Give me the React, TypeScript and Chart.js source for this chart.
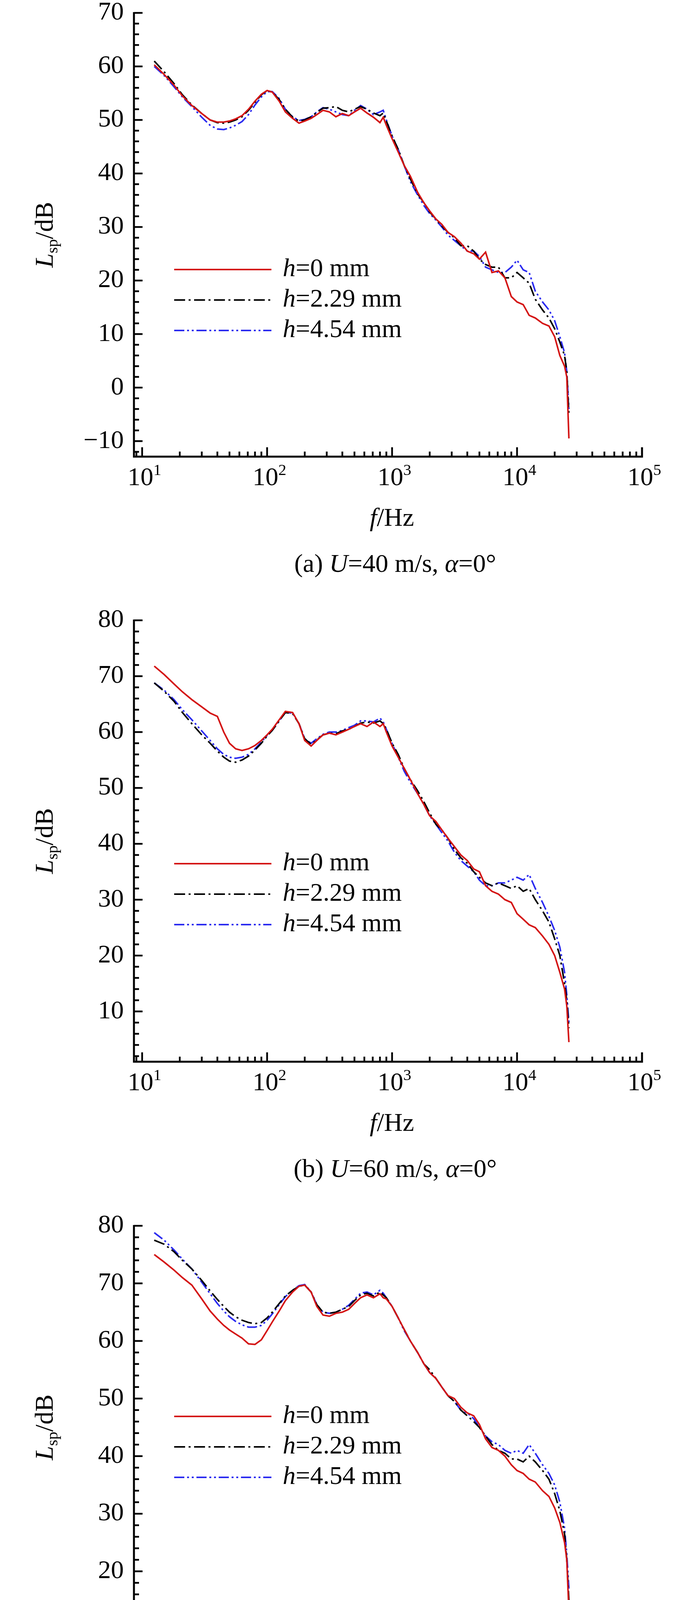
import React, { useEffect, useRef } from "react";
import { Chart, registerables } from "chart.js";
Chart.register(...registerables);

const freqs = [12.5, 15, 18, 21, 25, 30, 35, 40, 45, 50, 56, 63, 71, 80, 90, 100, 110, 125, 140, 160, 180, 200, 225, 250, 280, 315, 355, 400, 450, 500, 560, 630, 710, 800, 850, 900, 1000, 1120, 1250, 1400, 1600, 1800, 2000, 2240, 2500, 2800, 3150, 3550, 4000, 4500, 5000, 5600, 6300, 7100, 8000, 9000, 10000, 11200, 12500, 14000, 16000, 18000, 20000, 22000, 24000, 25000, 26000];

const a_h0 = [60.3, 58.5, 56.5, 54.5, 52.7, 51.2, 50.0, 49.6, 49.6, 49.8, 50.2, 50.8, 52, 53.5, 54.8, 55.5, 55.2, 53.5, 51.5, 50.3, 49.4, 49.8, 50.3, 51.0, 51.8, 51.5, 50.6, 51.2, 50.8, 51.5, 52.2, 51.3, 50.5, 49.5, 50.5, 49.0, 46.5, 44.0, 41.5, 39.5, 36.5, 34.5, 33.0, 31.5, 30.5, 29.0, 28.2, 27.0, 25.5, 25.0, 24.0, 25.3, 21.5, 21.8, 20.5, 17.0, 16.0, 15.5, 13.5, 13.0, 12.0, 11.5, 9.5, 6.0, 4.0, 2.0, -9.5];
const a_h229 = [61, 59, 56.8, 54.7, 52.8, 51.2, 50, 49.5, 49.4, 49.6, 50, 50.6, 51.8, 53.3, 54.7, 55.5, 55.2, 53.8, 52, 50.5, 49.8, 50, 50.6, 51.4, 52.2, 52.3, 52.5, 51.8, 51.5, 52, 52.5, 52, 51.3, 50.8, 51.3, 49.8, 47, 44.5, 41.5, 39, 36.2, 34.5, 32.8, 31.5, 30.2, 29, 28, 26.5, 26.5, 25.5, 24, 23, 22.5, 22.5, 20.5, 20.5, 21.5, 20.5, 19.5, 16.5, 14.5, 13, 11, 8.5, 6, 3, -5];
const a_h454 = [60, 58.3, 56.2, 54.3, 52.5, 50.5, 49, 48.3, 48.2, 48.5, 49, 49.7, 51, 52.8, 54.3, 55.3, 55.3, 54, 52, 50.6, 49.9, 50.1, 50.6, 51.5, 52.3, 52, 51.5, 51, 50.8, 51.8, 52.7, 52, 51, 51.5, 51.8, 50, 47, 44.5, 41.5, 38.5, 36, 34, 32.5, 31.3, 30, 28.5, 27.5, 26.5, 25.5, 25.5, 24.5, 22.5, 22, 21.5, 21.5, 22.5, 23.8, 22, 21.5, 18, 16, 14.5, 12.5, 9.5, 6.5, 3, -4];

const b_h0 = [71.8, 70.3, 68.6, 67.2, 65.8, 64.5, 63.4, 62.8, 60, 58, 57, 56.7, 57, 57.6, 58.5, 59.5, 60.5, 62.2, 63.7, 63.5, 61.5, 58.5, 57.5, 58.5, 59.5, 59.8, 59.5, 60, 60.5, 61, 61.5, 61, 61.8, 61, 61.5, 60, 57.5, 55.5, 53.5, 51.5, 49, 47, 45, 44, 42.5, 41, 39.5, 38, 37, 35.5, 35, 32.5, 31.5, 31, 30, 29.5, 27.5, 26.5, 25.5, 25, 23.5, 22, 20, 17, 14, 11, 4.5];
const b_h229 = [68.8, 67.3, 65.5, 63.5, 61.5, 59.5, 58, 56.6, 55.5, 54.8, 54.6, 55, 55.7, 56.8, 58, 59.3, 60.3, 62, 63.5, 63.3, 61.5, 58.8, 57.8, 58.6, 59.5, 59.8, 59.7, 60.2, 60.5, 61, 61.6, 61.8, 61.6, 62, 61.5, 60.5, 58, 56, 53.5, 51.5, 49.5, 47.5, 45.5, 43.5, 42.5, 41, 39, 37.5, 36.5, 35, 34, 33, 32.5, 33, 32.5, 32, 32.5, 31.5, 32, 30, 28, 26, 23, 20, 15, 12, 7];
const b_h454 = [68.8, 67.5, 65.8, 64, 62.2, 60.2, 58.5, 57, 56, 55.5, 55.3, 55.5, 56, 57, 58.2, 59.4, 60.3, 62, 63.5, 63.4, 61.5, 58.8, 58, 58.8, 59.6, 60, 60, 60.3, 60.8, 61.2, 62, 62, 61.8, 62.5, 61.8, 60.5, 58, 55.5, 53, 51, 49, 47, 45, 43.5, 42, 40.5, 38.5, 37, 36, 35, 33.5, 32.5, 32.5, 33, 33, 33.5, 34, 33.5, 34.5, 32, 29.5, 27, 24.5, 21.5, 17, 13, 8];

const c_h0 = [75, 73.7, 72.3, 71, 69.7, 67.3, 65.2, 63.8, 62.7, 61.9, 61.2, 60.5, 59.5, 59.4, 60.2, 61.8, 63.3, 65.2, 67, 68.5, 69.5, 69.7, 68.5, 66, 64.5, 64.3, 64.8, 65, 65.5, 66.5, 67.5, 68, 67.5, 68.2, 67.5, 67.3, 66, 64, 62, 60, 58, 56, 54.5, 53.5, 52, 50.5, 50, 48.5, 47.5, 47, 45.5, 43, 41.5, 41, 40, 38.5, 37.5, 37, 36, 35.5, 34, 33, 31, 28.5, 25, 22, 13];
const c_h229 = [77.5, 76.8, 75.5, 74, 72.5, 70.5, 68.7, 67.2, 66, 65, 64.2, 63.6, 63.2, 63.0, 63.2, 64, 65, 66.5, 67.8, 68.8, 69.5, 69.7, 68.5, 66.3, 65, 64.8, 65, 65.5, 66, 67, 68, 68.3, 67.8, 68.5, 68, 67.5, 66, 64, 62, 60, 58, 56, 55, 53.5, 52, 50.5, 49.5, 48, 47, 46, 45, 43.5, 42, 41, 40.5, 39.5, 39.5, 39, 40, 39, 37.5, 36, 33.5, 30.5, 26.5, 22, 15];
const c_h454 = [78.8, 77.5, 75.8, 74.2, 72.5, 70.2, 68.2, 66.5, 65.2, 64.2, 63.4, 62.8, 62.4, 62.4, 62.7, 63.6, 64.7, 66.3, 67.7, 68.8, 69.6, 69.8, 68.5, 66.3, 65, 64.8, 65, 65.5, 66.2, 67.2, 68.3, 68.5, 68, 68.8, 68.3, 67.5, 66, 64, 61.8, 60, 58, 56, 54.5, 53.5, 52, 50.5, 49.5, 48, 47.5, 46.5, 45, 43.5, 42.5, 42, 41, 40.5, 41, 40.5, 42, 40.5, 38.5, 37, 35, 32, 27.5, 23, 17];

const legendLabels = ["0", "2.29", "4.54"];
const xTickExps = [1, 2, 3, 4, 5];

const SERIF = '"Liberation Serif", "Times New Roman", serif';
const FS = 66;
const COLORS = ["#d41414", "#000000", "#2b2bf0"];
const DASHES: number[][] = [[], [28, 9, 5, 9], [26, 7, 5, 7, 5, 7]];

type Seg = { t: string; it?: boolean; sub?: boolean; sup?: boolean };

function segWidth(ctx: CanvasRenderingContext2D, segs: Seg[]) {
  let w = 0;
  for (const s of segs) {
    const size = s.sub || s.sup ? FS * 0.62 : FS;
    ctx.font = `${s.it ? "italic " : ""}${size}px ${SERIF}`;
    w += ctx.measureText(s.t).width;
  }
  return w;
}
function drawSegs(ctx: CanvasRenderingContext2D, segs: Seg[], x: number, y: number) {
  ctx.textBaseline = "middle";
  ctx.textAlign = "left";
  let cx = x;
  for (const s of segs) {
    const size = s.sub || s.sup ? FS * 0.62 : FS;
    ctx.font = `${s.it ? "italic " : ""}${size}px ${SERIF}`;
    const dy = s.sub ? FS * 0.28 : s.sup ? -FS * 0.3 : 0;
    ctx.fillText(s.t, cx, y + dy);
    cx += ctx.measureText(s.t).width;
  }
}

type PanelProps = {
  series: number[][];
  ymin: number;
  ymax: number;
  top: number;
  bottom: number;
  legendY: number;
  caption: string;
  letter: string;
  offset: number;
};

const H = 1560;
const LEFT = 343;
const RIGHT = 1644;

function Panel(p: PanelProps) {
  const ref = useRef<HTMLCanvasElement>(null);
  useEffect(() => {
    const axesPlugin = {
      id: "axesDraw",
      afterDraw(chart: any) {
        const ctx: CanvasRenderingContext2D = chart.ctx;
        const xs = chart.scales.x;
        const ys = chart.scales.y;
        const ca = chart.chartArea;
        ctx.save();
        ctx.strokeStyle = "#000";
        ctx.fillStyle = "#000";
        ctx.lineWidth = 5;
        ctx.setLineDash([]);
        ctx.beginPath();
        ctx.moveTo(ca.left, ys.getPixelForValue(p.ymax) - 2);
        ctx.lineTo(ca.left, ca.bottom);
        ctx.lineTo(ca.right, ca.bottom);
        ctx.lineTo(ca.right, ca.bottom - 24);
        ctx.stroke();
        ctx.lineWidth = 4.5;
        for (let v = Math.ceil(p.ymin / 2) * 2; v <= p.ymax; v += 2) {
          const py = ys.getPixelForValue(v);
          const major = v % 10 === 0;
          ctx.beginPath();
          ctx.moveTo(ca.left, py);
          ctx.lineTo(ca.left + (major ? 22 : 13), py);
          ctx.stroke();
          if (major) {
            ctx.font = `${FS}px ${SERIF}`;
            ctx.textAlign = "right";
            ctx.textBaseline = "middle";
            ctx.fillText(v < 0 ? "\u2212" + Math.abs(v) : String(v), ca.left - 26, py);
          }
        }
        for (let e = 1; e <= 4; e++) {
          for (let m = 1; m <= 9; m++) {
            const f = m * Math.pow(10, e);
            const px = xs.getPixelForValue(f);
            ctx.beginPath();
            ctx.moveTo(px, ca.bottom);
            ctx.lineTo(px, ca.bottom - (m === 1 ? 24 : 13));
            ctx.stroke();
          }
        }
        {
          const px = xs.getPixelForValue(9);
          ctx.beginPath();
          ctx.moveTo(px, ca.bottom);
          ctx.lineTo(px, ca.bottom - 13);
          ctx.stroke();
        }
        ctx.fillStyle = "#000";
        for (const e of xTickExps) {
          const px = xs.getPixelForValue(Math.pow(10, e));
          const segs: Seg[] = [{ t: "10" }, { t: String(e), sup: true }];
          const w = segWidth(ctx, segs);
          drawSegs(ctx, segs, px - w / 2 + 6, ca.bottom + 56);
        }
        {
          const segs: Seg[] = [{ t: "f", it: true }, { t: "/Hz" }];
          const w = segWidth(ctx, segs);
          drawSegs(ctx, segs, (ca.left + ca.right) / 2 - w / 2 + 10, ca.bottom + 160);
        }
        {
          ctx.save();
          ctx.translate(118, (ys.getPixelForValue(p.ymax) + ca.bottom) / 2);
          ctx.rotate(-Math.PI / 2);
          const segs: Seg[] = [{ t: "L", it: true }, { t: "sp", sub: true }, { t: "/dB" }];
          const w = segWidth(ctx, segs);
          drawSegs(ctx, segs, -w / 2, 0);
          ctx.restore();
        }
        {
          const [u, rest] = p.caption.split("|");
          const segs: Seg[] = [
            { t: `(${p.letter}) ` },
            { t: "U", it: true },
            { t: `=${u} m/s, ` },
            { t: "\u03b1", it: true },
            { t: rest },
          ];
          const w = segWidth(ctx, segs);
          drawSegs(ctx, segs, 1012 - w / 2, ca.bottom + 278);
        }
        for (let i = 0; i < 3; i++) {
          const y = p.legendY + i * 78;
          ctx.strokeStyle = COLORS[i];
          ctx.lineWidth = 4;
          ctx.setLineDash(DASHES[i]);
          ctx.beginPath();
          ctx.moveTo(446, y);
          ctx.lineTo(695, y);
          ctx.stroke();
          ctx.setLineDash([]);
          ctx.fillStyle = "#000";
          drawSegs(ctx, [{ t: "h", it: true }, { t: `=${legendLabels[i]} mm` }], 724, y);
        }
        ctx.restore();
      },
    };
    const chart = new Chart(ref.current!, {
      type: "line",
      data: {
        datasets: p.series.map((s, i) => ({
          data: freqs.map((f, j) => ({ x: f, y: s[j] })),
          borderColor: COLORS[i],
          borderWidth: 4,
          borderDash: DASHES[i],
          pointRadius: 0,
          tension: 0,
          fill: false,
        })),
      },
      options: {
        animation: false,
        responsive: false,
        devicePixelRatio: 1,
        layout: { padding: { left: LEFT, right: 1772 - RIGHT, top: p.top, bottom: H - p.bottom } },
        plugins: { legend: { display: false }, tooltip: { enabled: false } },
        scales: {
          x: { type: "logarithmic", min: 8.6, max: 100000, display: false },
          y: { type: "linear", min: p.ymin, max: p.ymax, display: false },
        },
      },
      plugins: [axesPlugin],
    } as any);
    return () => chart.destroy();
  }, []);
  return (
    <canvas
      ref={ref}
      width={1772}
      height={H}
      style={{ position: "absolute", left: 0, top: p.offset, display: "block", width: 1772, height: H }}
    />
  );
}

export default function App() {
  return (
    <div style={{ position: "absolute", left: 0, top: 0, width: 1772, height: 4485, background: "#fff", overflow: "hidden" }}>
      <Panel series={[a_h0, a_h229, a_h454]} ymin={-12.9} ymax={70} top={33} bottom={1169} legendY={690} caption={"40|=0°"} letter="a" offset={0} />
      <Panel series={[b_h0, b_h229, b_h454]} ymin={1} ymax={80} top={93} bottom={1223} legendY={716} caption={"60|=0°"} letter="b" offset={1495} />
      <Panel series={[c_h0, c_h229, c_h454]} ymin={10} ymax={80} top={148} bottom={1180} legendY={636} caption={"80|=0°"} letter="c" offset={2990} />
    </div>
  );
}
